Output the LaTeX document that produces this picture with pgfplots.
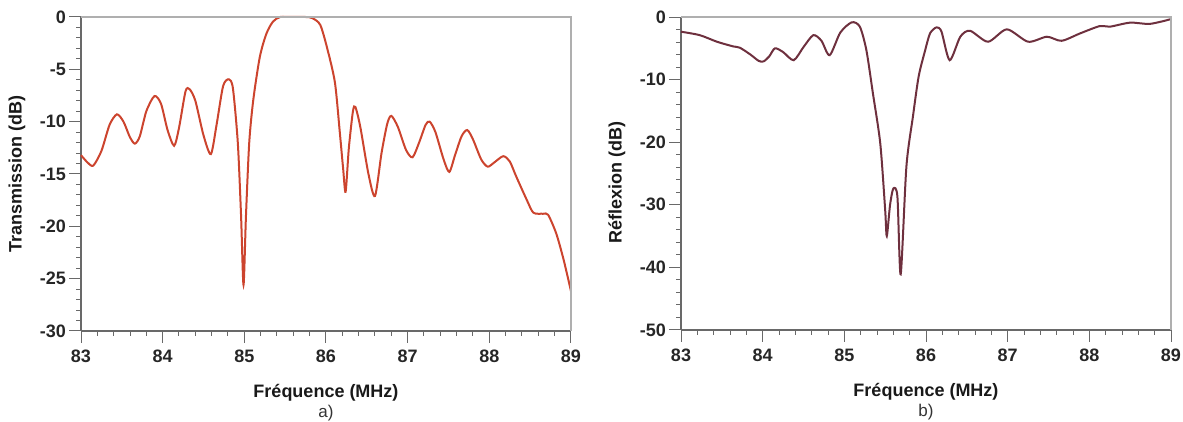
\documentclass[border=0pt]{standalone}
\usepackage{pgfplots}
\pgfplotsset{compat=1.18}
\usepackage{fontspec}
\setmainfont{Liberation Sans}
\definecolor{tcol}{RGB}{204,68,46}
\definecolor{rcol}{RGB}{110,48,62}
\definecolor{axgray}{RGB}{105,105,105}
\definecolor{frgray}{RGB}{175,175,175}
\pgfplotsset{
 mystyle/.style={
  scale only axis, width=245pt,
  xmin=83, xmax=89, xtick={83,...,89}, minor x tick num=4,
  axis x line*=bottom, axis y line*=left,
  axis line style={axgray, -, line width=0.6pt},
  tick align=outside, major tick length=6pt, minor tick length=2.5pt,
  every tick/.style={axgray, line width=0.5pt},
  tick label style={font=\fontsize{9}{10}\selectfont\bfseries, text=black!85},
  yticklabel style={xshift=2pt},
  /pgf/number format/assume math mode=true,
  label style={font=\fontsize{9}{10}\selectfont\bfseries, text=black!90},
  xlabel style={at={([yshift=-31pt]axis description cs:0.5,0)}, anchor=center},
  clip=false,
 }
}
\begin{document}
\begin{tikzpicture}
\useasboundingbox (-40.5pt,-45.5pt) rectangle (551pt,165.5pt);
\begin{axis}[mystyle, at={(0pt,0pt)}, anchor=south west, height=157pt,
  ymin=-30, ymax=0, ytick={-30,-25,...,0}, minor y tick num=4,
  xlabel={Fréquence (MHz)}, ylabel={Transmission (dB)},
  ylabel style={at={([xshift=-32pt]axis description cs:0,0.5)}, anchor=center}]
\addplot[tcol, line width=1pt, smooth, tension=0.45] coordinates {
(83.00,-13.2) (83.08,-13.9) (83.15,-14.2) (83.25,-12.8) (83.35,-10.3) (83.44,-9.3)
(83.52,-10.0) (83.60,-11.5) (83.66,-12.1) (83.72,-11.4) (83.80,-9.0) (83.90,-7.55)
(83.98,-8.3) (84.06,-10.8) (84.14,-12.3) (84.20,-10.6) (84.28,-7.1) (84.33,-6.9)
(84.40,-8.0) (84.50,-11.3) (84.59,-13.1) (84.66,-10.3) (84.74,-6.6) (84.81,-5.95)
(84.86,-6.8) (84.92,-12) (84.96,-19) (84.99,-25.6) (85.02,-19) (85.06,-12)
(85.11,-7.9) (85.19,-3.8) (85.27,-1.6) (85.35,-0.45) (85.44,0) (85.60,0)
(85.75,0) (85.83,-0.1) (85.93,-0.76) (86.02,-3.15) (86.11,-6.3) (86.17,-11.1)
(86.21,-14.5) (86.24,-16.7) (86.28,-12.5) (86.33,-9.0) (86.36,-8.6) (86.42,-10.5)
(86.52,-15) (86.60,-17.1) (86.68,-13) (86.75,-10.2) (86.80,-9.45) (86.88,-10.5)
(86.98,-12.7) (87.06,-13.4) (87.14,-12.0) (87.22,-10.3) (87.27,-10.0) (87.34,-11.0)
(87.44,-13.6) (87.51,-14.8) (87.58,-13.2) (87.66,-11.4) (87.73,-10.8) (87.80,-11.7)
(87.90,-13.6) (87.98,-14.3) (88.06,-13.9) (88.17,-13.3) (88.25,-13.8) (88.33,-15.25)
(88.46,-17.5) (88.54,-18.7) (88.66,-18.8) (88.72,-18.9) (88.82,-20.7) (88.91,-23.2)
(89.00,-26.2)
};
\draw[frgray, line width=0.6pt] (rel axis cs:0,1) -- (rel axis cs:1,1) -- (rel axis cs:1,0);
\node[font=\fontsize{8.5}{10}\selectfont, text=black!80] at ([yshift=-41pt]axis description cs:0.5,0) {a)};
\end{axis}
\begin{axis}[mystyle, at={(300pt,0.5pt)}, anchor=south west, height=156.5pt,
  ymin=-50, ymax=0, ytick={-50,-40,...,0}, minor y tick num=4,
  xlabel={Fréquence (MHz)}, ylabel={Réflexion (dB)},
  ylabel style={at={([xshift=-32pt]axis description cs:0,0.47)}, anchor=center}]
\addplot[rcol, line width=1pt, smooth, tension=0.45] coordinates {
(83.00,-2.35) (83.23,-2.9) (83.44,-3.95) (83.64,-4.7) (83.72,-4.9) (83.85,-6.0)
(83.95,-7.0) (84.01,-7.1) (84.08,-6.3) (84.15,-5.0) (84.25,-5.6) (84.38,-6.9)
(84.50,-4.8) (84.62,-2.9) (84.72,-3.8) (84.82,-6.1) (84.95,-2.5) (85.09,-0.85)
(85.19,-1.55) (85.27,-5.3) (85.35,-12.2) (85.44,-20.2) (85.50,-30.8) (85.52,-35)
(85.56,-30) (85.60,-27.4) (85.65,-28.7) (85.69,-41.1) (85.76,-23.9) (85.84,-15.9)
(85.91,-9.5) (85.99,-5.3) (86.05,-2.6) (86.13,-1.65) (86.19,-2.35) (86.29,-6.9)
(86.42,-3.15) (86.54,-2.2) (86.76,-3.95) (86.99,-1.97) (87.25,-3.95) (87.48,-3.15)
(87.66,-3.8) (87.89,-2.6) (88.13,-1.44) (88.25,-1.55) (88.50,-0.9) (88.74,-1.1)
(88.99,-0.37)
};
\draw[frgray, line width=0.6pt] (rel axis cs:0,1) -- (rel axis cs:1,1) -- (rel axis cs:1,0);
\node[font=\fontsize{8.5}{10}\selectfont, text=black!80] at ([yshift=-41pt]axis description cs:0.5,0) {b)};
\end{axis}
\end{tikzpicture}
\end{document}
